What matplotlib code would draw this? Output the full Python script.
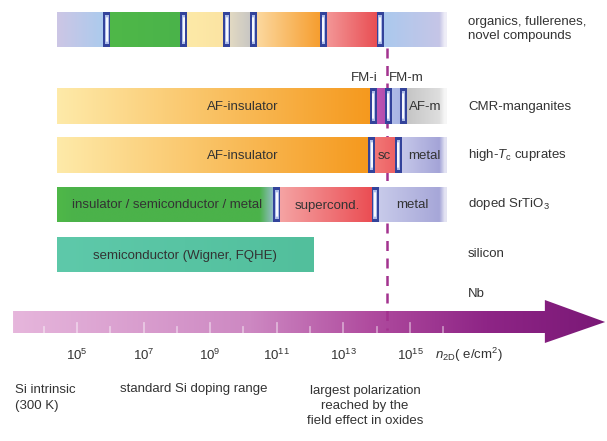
import numpy as np
import matplotlib
matplotlib.use("Agg")
import matplotlib.pyplot as plt
from matplotlib.colors import LinearSegmentedColormap
from matplotlib.patches import Rectangle, Polygon

plt.rcParams['font.family'] = ['Liberation Sans', 'DejaVu Sans']
plt.rcParams['mathtext.fontset'] = 'custom'
plt.rcParams['mathtext.rm'] = 'Liberation Sans'
plt.rcParams['mathtext.it'] = 'Liberation Sans:italic'

# ---------------- data (x in log10 of n_2D, e/cm^2) ----------------
row_names = ["organics, fullerenes,\nnovel compounds", "CMR-manganites",
             "high-$T_\\mathrm{c}$ cuprates", "doped SrTiO$_3$", "silicon"]

organics_edges = [4.4, 5.9, 8.2, 9.5, 10.3, 12.4, 14.1, 16.1]
organics_labels = ["", "", "", "", "", "", ""]

cmr_edges = [4.4, 13.9, 14.35, 14.8, 16.1]
cmr_labels = ["AF-insulator", "", "", "AF-m"]

cuprate_edges = [4.4, 13.85, 14.65, 16.1]
cuprate_labels = ["AF-insulator", "sc", "metal"]

srtio3_edges = [4.4, 11.0, 13.95, 16.1]
srtio3_labels = ["insulator / semiconductor / metal", "supercond.", "metal"]

silicon_edges = [4.4, 12.1]
silicon_labels = ["semiconductor (Wigner, FQHE)"]

polarization_limit = 14.3        # dashed line
tick_exponents = [5, 7, 9, 11, 13, 15]
minor_exponents = [4, 6, 8, 10, 12, 14, 16]

# ---------------- styles ----------------
organics_colors = [('#cdc6e5', '#a9cbee'), ('#4fb848', '#4ab34a'), ('#fdeaa8', '#fbe3a2'),
                   ('#e6dcc2', '#c4c4c4'), ('#fcdca6', '#f69b2a'), ('#f49c9c', '#e84a4f'),
                   ('#a9c9ee', '#c9c5e6')]
cmr_colors = [('#feeaa9', '#f5981c'), ('#c45cb8', '#b04aaa'), ('#b2bee9', '#a6b2e2'),
              ('#c2c2c2', '#e4e4e4')]
cuprate_colors = [('#feeaa9', '#f5981c'), ('#f27a7a', '#ec5e60'), ('#c9cbeb', '#9d9dd4')]
srtio3_colors = [('#4fb848', '#4bb24a', '#4bb24a', '#4bb24a', '#4bb24a', '#4bb24a', '#4bb24a',
                  '#4bb24a', '#4bb24a', '#4bb24a', '#4bb24a', '#4bb24a', '#4bb24a', '#a6bfe6'),
                 ('#f5a6a6', '#ea4a50'), ('#cacdeb', '#a2a2d6')]
silicon_colors = [('#5ec9aa', '#52bf9c')]

rows = [
    (organics_edges, organics_labels, organics_colors, (12, 47)),
    (cmr_edges, cmr_labels, cmr_colors, (88, 124)),
    (cuprate_edges, cuprate_labels, cuprate_colors, (137, 173)),
    (srtio3_edges, srtio3_labels, srtio3_colors, (187, 222)),
    (silicon_edges, silicon_labels, silicon_colors, (237, 272)),
]
label_pos = {"AF-insulator": 9.98, "AF-m": 15.45, "sc": 14.22,
             "insulator / semiconductor / metal": 7.7, "supercond.": 12.51,
             "semiconductor (Wigner, FQHE)": 8.24}

TXT = '#333333'
SEP_W = 0.21
FADE = 0.22


def hgrad(ax, x0, x1, y0, y1, colors, fade=False):
    cm = LinearSegmentedColormap.from_list('g', list(colors))
    t = np.linspace(0, 1, 256)
    img = cm(t)[None, :, :].copy()
    if fade:
        xs = x0 + (x1 - x0) * t
        img[0, :, 3] = np.clip((x1 - xs) / FADE, 0.3, 1.0)
    ax.imshow(img, extent=(x0, x1, y1, y0), aspect='auto', interpolation='bilinear', zorder=1)


def separator(ax, xc, y0, y1):
    ax.add_patch(Rectangle((xc - SEP_W / 2, y0), SEP_W, y1 - y0, fc='#33439b', ec='none', zorder=3))
    ax.add_patch(Rectangle((xc - SEP_W / 4, y0 + 3), SEP_W / 2, y1 - y0 - 6, fc='#aebde8', ec='none', zorder=4))
    ax.plot([xc, xc], [y0 + 6, y1 - 6], color='white', lw=1.3, zorder=5, solid_capstyle='round')


fig = plt.figure(figsize=(6.07, 4.41), dpi=100)
ax = fig.add_axes([0, 0, 1, 1])

for edges, labels, colors, (y0, y1) in rows:
    n = len(edges) - 1
    for i in range(n):
        hgrad(ax, edges[i], edges[i + 1], y0, y1, colors[i], fade=(i == n - 1 and n > 1))
        if labels[i]:
            xc = label_pos.get(labels[i]) or (edges[i] + edges[i + 1]) / 2 + 0.05
            ax.text(xc, (y0 + y1) / 2 + 1, labels[i], ha='center', va='center',
                    fontsize=9.5, color=TXT, zorder=6)
    for xb in edges[1:-1]:
        separator(ax, xb, y0, y1)

# row names on the right
name_y = [29, 107, 155, 204, 254]
for name, y in zip(row_names, name_y):
    ax.text(16.74, y, name, ha='left', va='center', fontsize=9.5, color=TXT, linespacing=1.25)
ax.text(16.74, 294, "Nb", ha='left', va='center', fontsize=9.5, color=TXT)

ax.text(13.62, 78, "FM-i", ha='center', va='center', fontsize=9.5, color=TXT)
ax.text(14.88, 78, "FM-m", ha='center', va='center', fontsize=9.5, color=TXT)

# arrow
cmap = LinearSegmentedColormap.from_list('arr', [(0, '#e6b6dc'), (0.4, '#cd88c2'), (0.6, '#b04c9f'),
                                                 (0.8, '#8e2586'), (1.0, '#7a1876')])
ax_l, ax_b, ax_t = 3.08, 19.05, 20.86
arrow = Polygon([(ax_l, 311), (ax_b, 311), (ax_b, 300), (ax_t, 322), (ax_b, 343),
                 (ax_b, 333), (ax_l, 333)], closed=True, fc='none', ec='none')
ax.add_patch(arrow)
im = ax.imshow(cmap(np.linspace(0, 1, 512))[None, :, :], extent=(ax_l, ax_t, 343, 300),
               aspect='auto', interpolation='bilinear', zorder=0.5)
im.set_clip_path(arrow)

for e in tick_exponents:
    ax.plot([e, e], [323, 333], color='white', alpha=0.45, lw=1.3, zorder=3)
    ax.text(e, 355, "$10^{%d}$" % e, ha='center', va='center', fontsize=9.5, color=TXT)
for e in minor_exponents:
    ax.plot([e, e], [327, 333], color='white', alpha=0.45, lw=1.3, zorder=3)
ax.text(15.75, 355, "$n_{\\mathrm{2D}}$( e/cm$^2$)", ha='left', va='center', fontsize=9.5, color=TXT)

# polarization limit (behind the bars, over the arrow)
ax.plot([polarization_limit, polarization_limit], [48, 330], color='#a3338f', lw=1.8,
        dashes=(4, 3), zorder=0.8)

# bottom notes
ax.text(3.14, 398, "Si intrinsic\n(300 K)", ha='left', va='center', fontsize=9.5, color=TXT,
        linespacing=1.35)
ax.text(6.29, 389, "standard Si doping range", ha='left', va='center', fontsize=9.5, color=TXT)
ax.text(13.65, 406, "largest polarization\nreached by the\nfield effect in oxides", ha='center',
        va='center', fontsize=9.5, color=TXT, linespacing=1.35)

ax.set_xlim(2.688, 20.916)
ax.set_ylim(441, 0)
ax.axis('off')
fig.savefig("out.png", dpi=100)
